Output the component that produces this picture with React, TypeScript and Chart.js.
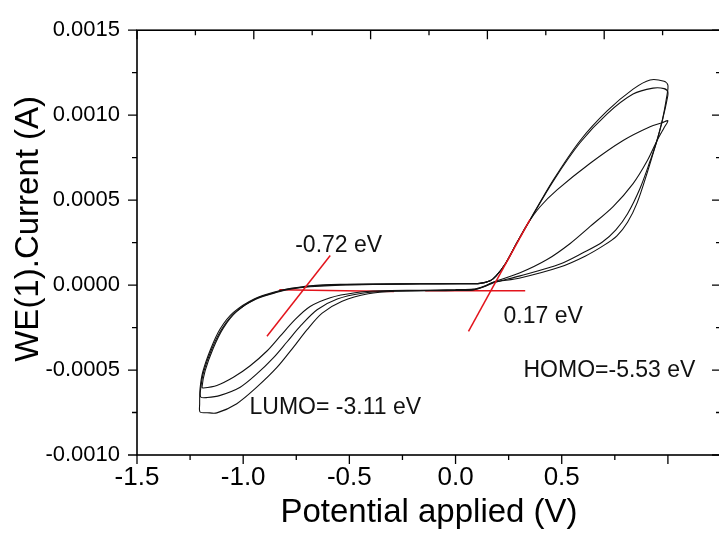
import React, { useEffect, useRef } from "react";
import { Chart, registerables } from "chart.js";

Chart.register(...registerables);

// ---- Data: potential (V) and current (µA) ----
const cycle1Potential = [0.0, 0.083, 0.139, 0.177, 0.304, 0.492, 0.61, 0.7, 0.76, 0.81, 0.855, 0.902, 0.94, 0.973, 0.994, 1.0, 0.982, 0.916, 0.836, 0.714, 0.587, 0.46, 0.351, 0.29, 0.234, 0.191, 0.163, 0.115, 0.022, -0.167, -0.355, -0.543, -0.685, -0.779, -0.826, -0.936, -1.03, -1.093, -1.14, -1.179, -1.194, -1.188, -1.124, -1.046, -0.967, -0.888, -0.826, -0.755, -0.685, -0.59, -0.473, -0.355, -0.167, 0.0];
const cycle1CurrentMicroA = [-27, -24, -4, 16, 42, 106, 170, 235, 290, 370, 484, 659, 816, 967, 1106, 1176, 1199, 1207, 1153, 1025, 851, 618, 385, 252, 124, 54, 25, 10, 8, 8, 6, 2, -7, -22, -35, -78, -155, -252, -369, -504, -601, -606, -591, -543, -475, -388, -301, -202, -126, -74, -45, -33, -30, -27];

const cycle2Potential = [0.0, 0.083, 0.139, 0.177, 0.304, 0.492, 0.6, 0.69, 0.755, 0.81, 0.869, 0.916, 0.949, 0.977, 0.994, 1.0, 0.982, 0.93, 0.836, 0.714, 0.587, 0.46, 0.351, 0.29, 0.234, 0.191, 0.163, 0.115, 0.022, -0.167, -0.355, -0.543, -0.685, -0.779, -0.831, -0.941, -1.038, -1.1, -1.147, -1.186, -1.2, -1.2, -1.17, -1.108, -1.014, -0.936, -0.857, -0.794, -0.727, -0.652, -0.557, -0.44, -0.308, -0.12, 0.0];
const cycle2CurrentMicroA = [-30, -27, -7, 13, 54, 124, 190, 252, 325, 420, 570, 730, 851, 985, 1080, 1135, 1156, 1159, 1124, 1008, 839, 612, 383, 252, 124, 54, 25, 10, 8, 6, 4, 0, -10, -24, -39, -83, -161, -257, -373, -510, -609, -659, -662, -649, -601, -523, -427, -335, -236, -145, -82, -48, -35, -32, -30];

const cycle3Potential = [0.0, 0.083, 0.139, 0.177, 0.304, 0.431, 0.54, 0.634, 0.742, 0.836, 0.902, 0.949, 0.982, 1.0, 0.973, 0.916, 0.789, 0.634, 0.478, 0.398, 0.337, 0.29, 0.234, 0.191, 0.163, 0.115, 0.022, -0.167, -0.355, -0.543, -0.685, -0.779, -0.831, -0.946, -1.046, -1.108, -1.152, -1.19, -1.203, -1.205, -1.203, -1.17, -1.124, -1.03, -0.936, -0.841, -0.763, -0.699, -0.628, -0.534, -0.411, -0.284, -0.096, 0.0];
const cycle3CurrentMicroA = [-32, -29, -7, 16, 72, 150, 245, 345, 462, 597, 730, 851, 926, 967, 955, 932, 851, 717, 560, 461, 356, 252, 124, 54, 25, 10, 8, 8, 6, 4, -4, -20, -33, -80, -161, -257, -373, -510, -609, -700, -747, -751, -752, -698, -601, -485, -365, -262, -165, -95, -51, -36, -33, -32];

// Red onset tangent lines
const lumoTangentPotential = [-0.888, -0.59];
const lumoTangentCurrentMicroA = [-301, 174];
const lumoBasePotential = [-0.83, -0.29];
const lumoBaseCurrentMicroA = [-28, -38];
const homoBasePotential = [-0.143, 0.328];
const homoBaseCurrentMicroA = [-33, -33];
const homoTangentPotential = [0.061, 0.351];
const homoTangentCurrentMicroA = [-272, 387];

// Text annotations
const annotationTexts = ["-0.72 eV", "0.17 eV", "HOMO=-5.53 eV", "LUMO= -3.11 eV"];
const annotationPotentials = [-0.755, 0.226, 0.32, -0.97];
const annotationCurrentsMicroA = [233, -184, -504, -722];

// Ticks
const xMajorTicks = [-1.5, -1.0, -0.5, 0.0, 0.5, 1.0];
const xMinorTicks = [-1.25, -0.75, -0.25, 0.25, 0.75];
const yMajorTicks = [-0.001, -0.0005, 0, 0.0005, 0.001, 0.0015];
const yMinorTicks = [-0.00075, -0.00025, 0.00025, 0.00075, 0.00125];
const topTickDivisions = 10;

const FONT = "'Liberation Sans', Arial, Helvetica, sans-serif";

function toPoints(xs: number[], ysMicro: number[]) {
  return xs.map((x, i) => ({ x, y: ysMicro[i] / 1e6 }));
}

const framePlugin = {
  id: "frameTicks",
  afterDraw(chart: any) {
    const { ctx, chartArea, scales } = chart;
    const { left, right, top, bottom } = chartArea;
    const x = scales.x;
    const y = scales.y;
    ctx.save();
    ctx.strokeStyle = "#000";
    ctx.lineWidth = 1.6;
    ctx.strokeRect(left, top, right - left, bottom - top);
    ctx.lineWidth = 1.3;
    ctx.beginPath();
    xMajorTicks.forEach((v) => {
      const p = x.getPixelForValue(v);
      ctx.moveTo(p, bottom);
      ctx.lineTo(p, bottom + 9);
    });
    xMinorTicks.forEach((v) => {
      const p = x.getPixelForValue(v);
      ctx.moveTo(p, bottom);
      ctx.lineTo(p, bottom + 5);
    });
    yMajorTicks.forEach((v) => {
      const p = y.getPixelForValue(v);
      ctx.moveTo(left - 9, p);
      ctx.lineTo(left, p);
      ctx.moveTo(right - 9, p);
      ctx.lineTo(right, p);
    });
    yMinorTicks.forEach((v) => {
      const p = y.getPixelForValue(v);
      ctx.moveTo(left - 5, p);
      ctx.lineTo(left, p);
      ctx.moveTo(right - 5, p);
      ctx.lineTo(right, p);
    });
    for (let i = 0; i <= topTickDivisions; i++) {
      const v = x.min + (i * (x.max - x.min)) / topTickDivisions;
      const p = x.getPixelForValue(v);
      const len = i % 2 === 0 ? 9 : 5;
      ctx.moveTo(p, top);
      ctx.lineTo(p, top + len);
    }
    ctx.stroke();
    ctx.restore();
  },
  afterDatasetsDraw(chart: any) {
    const { ctx, scales } = chart;
    ctx.save();
    ctx.fillStyle = "#111";
    ctx.font = `23px ${FONT}`;
    ctx.textAlign = "left";
    ctx.textBaseline = "middle";
    annotationTexts.forEach((t, i) => {
      const px = scales.x.getPixelForValue(annotationPotentials[i]);
      const py = scales.y.getPixelForValue(annotationCurrentsMicroA[i] / 1e6);
      ctx.fillText(t, px, py);
    });
    ctx.restore();
  },
};

export default function App() {
  const canvasRef = useRef<HTMLCanvasElement | null>(null);

  useEffect(() => {
    if (!canvasRef.current) return;
    const red = "#e3141c";
    const black = "#111";
    const redLine = (xs: number[], ys: number[]) => ({
      data: toPoints(xs, ys),
      borderColor: red,
      borderWidth: 1.5,
      pointRadius: 0,
      showLine: true,
      tension: 0,
    });
    const cvLine = (xs: number[], ys: number[]) => ({
      data: toPoints(xs, ys),
      borderColor: black,
      borderWidth: 1.1,
      pointRadius: 0,
      showLine: true,
      tension: 0.3,
    });
    const chart = new Chart(canvasRef.current, {
      type: "scatter",
      data: {
        datasets: [
          redLine(lumoTangentPotential, lumoTangentCurrentMicroA),
          redLine(homoTangentPotential, homoTangentCurrentMicroA),
          cvLine(cycle1Potential, cycle1CurrentMicroA),
          cvLine(cycle2Potential, cycle2CurrentMicroA),
          cvLine(cycle3Potential, cycle3CurrentMicroA),
          redLine(lumoBasePotential, lumoBaseCurrentMicroA),
          redLine(homoBasePotential, homoBaseCurrentMicroA),
        ] as any,
      },
      options: {
        animation: false,
        responsive: false,
        layout: { padding: { top: 25, left: 0, right: 0, bottom: 0 } },
        plugins: { legend: { display: false }, tooltip: { enabled: false } },
        scales: {
          x: {
            type: "linear",
            min: -1.5,
            max: 1.25,
            afterBuildTicks: (scale: any) => {
              scale.ticks = scale.ticks.filter(
                (t: any) => Math.abs(t.value * 2 - Math.round(t.value * 2)) < 1e-9
              );
            },
            afterFit: (scale: any) => {
              scale.height = 79;
            },
            grid: { display: false, drawTicks: false },
            border: { display: false },
            ticks: {
              stepSize: 0.5,
              padding: 7,
              color: "#000",
              autoSkip: false,
              maxRotation: 0,
              font: { family: FONT, size: 26, lineHeight: 1.2 },
              callback: (v: any) => Number(v).toFixed(1),
            },
            title: {
              display: true,
              text: "Potential applied (V)",
              color: "#000",
              font: { family: FONT, size: 33, lineHeight: 1.2 },
              padding: { top: 0, bottom: 1 },
            },
          },
          y: {
            type: "linear",
            min: -0.001,
            max: 0.0015,
            afterFit: (scale: any) => {
              scale.width = 137;
            },
            grid: { display: false, drawTicks: false },
            border: { display: false },
            ticks: {
              stepSize: 0.0005,
              padding: 17,
              color: "#000",
              autoSkip: false,
              font: { family: FONT, size: 22, lineHeight: 1.2 },
              callback: (v: any) => Number(v).toFixed(4),
            },
            title: {
              display: true,
              text: "   WE(1).Current (A)",
              color: "#000",
              font: { family: FONT, size: 33, lineHeight: 1.2 },
              padding: { top: 9, bottom: 0 },
            },
          },
        },
      } as any,
      plugins: [framePlugin as any],
    });
    return () => chart.destroy();
  }, []);

  return (
    <div
      style={{
        position: "fixed",
        left: 0,
        top: 0,
        width: 721,
        height: 534,
        background: "#fff",
      }}
    >
      <canvas ref={canvasRef} width={721} height={534} style={{ display: "block" }} />
    </div>
  );
}
